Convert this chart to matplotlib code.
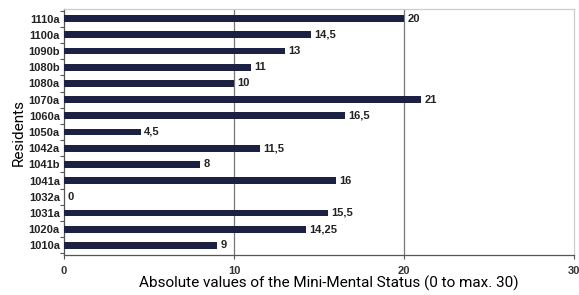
import matplotlib
matplotlib.use("Agg")
import matplotlib.pyplot as plt
import numpy as np

residents = ["1110a", "1100a", "1090b", "1080b", "1080a", "1070a", "1060a", "1050a",
             "1042a", "1041b", "1041a", "1032a", "1031a", "1020a", "1010a"]
values = [20, 14.5, 13, 11, 10, 21, 16.5, 4.5, 11.5, 8, 16, 0, 15.5, 14.25, 9]
value_labels = ["20", "14,5", "13", "11", "10", "21", "16,5", "4,5", "11,5", "8", "16", "0",
                "15,5", "14,25", "9"]
xticks = [0, 10, 20, 30]

plt.rcParams['font.family'] = ['Liberation Sans', 'DejaVu Sans']
fig = plt.figure(figsize=(5.79, 2.95), dpi=100)
ax = fig.add_axes([64/579, 1-255/295, (574-64)/579, (255-9)/295])

n = len(residents)
y = np.arange(n)[::-1]
ax.barh(y, values, height=0.42, color="#1c2042", zorder=3)
for yi, v, lab in zip(y, values, value_labels):
    ax.text(v + 0.2, yi, lab, va="center", ha="left", fontsize=8, fontweight="bold", color="#222222")

ax.set_xlim(0, 30)
ax.set_ylim(-0.6, n - 0.4)
ax.set_xticks(xticks)
ax.set_xticklabels([str(t) for t in xticks], fontsize=8, fontweight="bold", color="#333333")
ax.set_yticks(y)
ax.set_yticklabels(residents, fontsize=8, fontweight="bold", color="#222222")
ax.tick_params(axis="y", length=0, pad=3)
ax.set_yticks(np.arange(n + 1) - 0.5, minor=True)
ax.tick_params(axis="y", which="minor", length=3, width=0.8, color="#555555")
ax.tick_params(axis="x", length=3, width=0.8, color="#555555", pad=5)
for xv in [10, 20]:
    ax.axvline(xv, color="#777777", lw=0.9, zorder=1)
ax.spines["left"].set_color("#555555")
ax.spines["bottom"].set_color("#555555")
ax.spines["top"].set_color("#cccccc")
ax.spines["right"].set_color("#cccccc")
for s in ax.spines.values():
    s.set_linewidth(0.9)

ax.set_xlabel("Absolute values of the Mini-Mental Status (0 to max. 30)", fontsize=11,
              family=["Roboto", "DejaVu Sans"], labelpad=0, x=0.5 + 10/510)
ax.set_ylabel("Residents", fontsize=11, family=["Roboto", "DejaVu Sans"], labelpad=2)

fig.savefig("out.png", dpi=100)
